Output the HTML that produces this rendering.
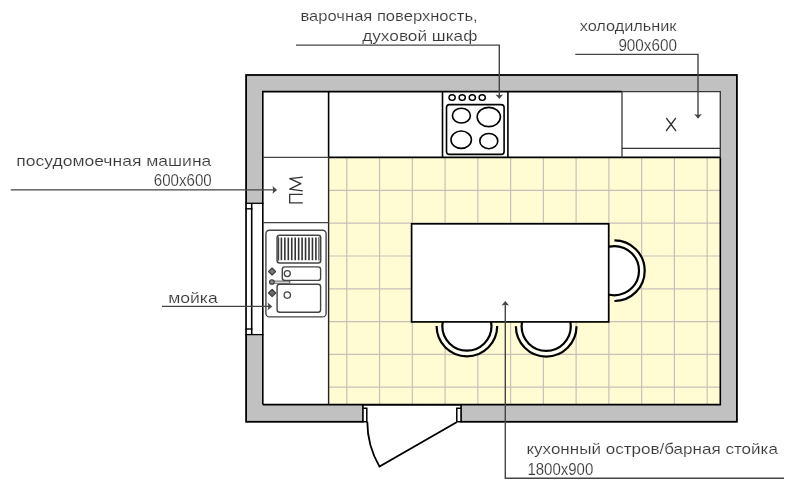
<!DOCTYPE html>
<html><head><meta charset="utf-8"><style>
html,body{margin:0;padding:0;background:#fff;width:795px;height:495px;overflow:hidden}
svg{display:block;font-family:"Liberation Sans", sans-serif;will-change:transform}
</style></head><body>
<svg width="795" height="495" viewBox="0 0 795 495">
<rect x="0" y="0" width="795" height="495" fill="#fff"/>
<rect x="246.1" y="75" width="490.8" height="346.8" fill="#c1c1c1" stroke="#000" stroke-width="1.8"/>
<rect x="262.8" y="91.6" width="457.5" height="313.0" fill="#fff"/>
<path d="M622 91.6 H262.8 V404.6" fill="none" stroke="#000" stroke-width="1.6"/>
<rect x="246.9" y="203.3" width="15.1" height="131.3" fill="#fff"/>
<line x1="245.3" y1="203.3" x2="263.5" y2="203.3" stroke="#000" stroke-width="1.3"/>
<line x1="245.3" y1="334.6" x2="263.5" y2="334.6" stroke="#000" stroke-width="1.3"/>
<line x1="251.7" y1="203.3" x2="251.7" y2="334.6" stroke="#000" stroke-width="1.6"/>
<line x1="245.3" y1="208.8" x2="252.5" y2="208.8" stroke="#000" stroke-width="1.4"/>
<line x1="245.3" y1="329.0" x2="252.5" y2="329.0" stroke="#000" stroke-width="1.4"/>
<rect x="363.6" y="405.1" width="96.8" height="18.5" fill="#fff"/>
<line x1="362.9" y1="404.3" x2="362.9" y2="421.8" stroke="#000" stroke-width="1.6"/>
<line x1="461.1" y1="404.3" x2="461.1" y2="421.8" stroke="#000" stroke-width="1.6"/>
<path d="M363.2 408.2 H366.8 V421.8 H362.5" fill="none" stroke="#000" stroke-width="1.5"/>
<path d="M460.8 408.3 H456.8 V421.8 H461.5" fill="none" stroke="#000" stroke-width="1.5"/>
<line x1="362" y1="404.6" x2="462" y2="404.6" stroke="#000" stroke-width="1.6"/>
<rect x="329" y="157.4" width="391.3" height="247.2" fill="#fffcd3"/>
<line x1="346.80" y1="157.4" x2="346.80" y2="404.3" stroke="#c8c0b8" stroke-width="1.2"/>
<line x1="379.56" y1="157.4" x2="379.56" y2="404.3" stroke="#c8c0b8" stroke-width="1.2"/>
<line x1="412.32" y1="157.4" x2="412.32" y2="404.3" stroke="#c8c0b8" stroke-width="1.2"/>
<line x1="445.08" y1="157.4" x2="445.08" y2="404.3" stroke="#c8c0b8" stroke-width="1.2"/>
<line x1="477.84" y1="157.4" x2="477.84" y2="404.3" stroke="#c8c0b8" stroke-width="1.2"/>
<line x1="510.60" y1="157.4" x2="510.60" y2="404.3" stroke="#c8c0b8" stroke-width="1.2"/>
<line x1="543.36" y1="157.4" x2="543.36" y2="404.3" stroke="#c8c0b8" stroke-width="1.2"/>
<line x1="576.12" y1="157.4" x2="576.12" y2="404.3" stroke="#c8c0b8" stroke-width="1.2"/>
<line x1="608.88" y1="157.4" x2="608.88" y2="404.3" stroke="#c8c0b8" stroke-width="1.2"/>
<line x1="641.64" y1="157.4" x2="641.64" y2="404.3" stroke="#c8c0b8" stroke-width="1.2"/>
<line x1="674.40" y1="157.4" x2="674.40" y2="404.3" stroke="#c8c0b8" stroke-width="1.2"/>
<line x1="707.16" y1="157.4" x2="707.16" y2="404.3" stroke="#c8c0b8" stroke-width="1.2"/>
<line x1="329" y1="190.40" x2="720.3" y2="190.40" stroke="#c8c0b8" stroke-width="1.2"/>
<line x1="329" y1="223.20" x2="720.3" y2="223.20" stroke="#c8c0b8" stroke-width="1.2"/>
<line x1="329" y1="256.00" x2="720.3" y2="256.00" stroke="#c8c0b8" stroke-width="1.2"/>
<line x1="329" y1="288.80" x2="720.3" y2="288.80" stroke="#c8c0b8" stroke-width="1.2"/>
<line x1="329" y1="321.60" x2="720.3" y2="321.60" stroke="#c8c0b8" stroke-width="1.2"/>
<line x1="329" y1="354.40" x2="720.3" y2="354.40" stroke="#c8c0b8" stroke-width="1.2"/>
<line x1="329" y1="387.20" x2="720.3" y2="387.20" stroke="#c8c0b8" stroke-width="1.2"/>
<line x1="720.3" y1="157.4" x2="720.3" y2="405.4" stroke="#000" stroke-width="1.6"/>
<path d="M622 91.6 H720.3 V157.4" fill="none" stroke="#383838" stroke-width="1.35"/>
<line x1="262.8" y1="404.6" x2="720.3" y2="404.6" stroke="#000" stroke-width="1.6"/>
<line x1="328.6" y1="91.6" x2="328.6" y2="157.4" stroke="#000" stroke-width="1.6"/>
<line x1="328.6" y1="157.4" x2="328.6" y2="404.3" stroke="#222" stroke-width="1.4"/>
<line x1="329" y1="157.4" x2="720.3" y2="157.4" stroke="#000" stroke-width="1.6"/>
<line x1="262.8" y1="157.4" x2="329" y2="157.4" stroke="#444" stroke-width="1.2"/>
<line x1="262.8" y1="222.6" x2="329" y2="222.6" stroke="#444" stroke-width="1.2"/>
<line x1="442.5" y1="91.6" x2="442.5" y2="157.4" stroke="#000" stroke-width="1.6"/>
<line x1="507.9" y1="91.6" x2="507.9" y2="157.4" stroke="#000" stroke-width="1.6"/>
<ellipse cx="452.1" cy="97.5" rx="3.1" ry="2.85" fill="none" stroke="#000" stroke-width="1.45"/>
<ellipse cx="462.2" cy="97.5" rx="3.1" ry="2.85" fill="none" stroke="#000" stroke-width="1.45"/>
<ellipse cx="472.3" cy="97.5" rx="3.1" ry="2.85" fill="none" stroke="#000" stroke-width="1.45"/>
<ellipse cx="482.2" cy="97.5" rx="3.1" ry="2.85" fill="none" stroke="#000" stroke-width="1.45"/>
<rect x="446.5" y="104.6" width="57.6" height="49.8" rx="3" fill="none" stroke="#000" stroke-width="1.6"/>
<ellipse cx="461.4" cy="115.6" rx="9.0" ry="7.4" fill="none" stroke="#000" stroke-width="1.6"/>
<ellipse cx="488.8" cy="117.0" rx="11.6" ry="9.6" fill="none" stroke="#000" stroke-width="1.6"/>
<ellipse cx="461.2" cy="139.7" rx="10.2" ry="8.7" fill="none" stroke="#000" stroke-width="1.6"/>
<ellipse cx="488.8" cy="141.1" rx="9.0" ry="7.6" fill="none" stroke="#000" stroke-width="1.6"/>
<line x1="622" y1="91" x2="622" y2="157.4" stroke="#383838" stroke-width="1.3"/>
<line x1="622" y1="148.3" x2="720.3" y2="148.3" stroke="#333" stroke-width="1.3"/>
<rect x="265.9" y="230.3" width="60.2" height="86.6" rx="3.5" fill="none" stroke="#444" stroke-width="1.4"/>
<rect x="277.1" y="235.2" width="43.6" height="27.9" rx="2.5" fill="none" stroke="#444" stroke-width="1.5"/>
<line x1="281.40" y1="237.6" x2="281.40" y2="260.2" stroke="#333" stroke-width="1.6"/>
<line x1="284.85" y1="237.6" x2="284.85" y2="260.2" stroke="#333" stroke-width="1.6"/>
<line x1="288.30" y1="237.6" x2="288.30" y2="260.2" stroke="#333" stroke-width="1.6"/>
<line x1="291.75" y1="237.6" x2="291.75" y2="260.2" stroke="#333" stroke-width="1.6"/>
<line x1="295.20" y1="237.6" x2="295.20" y2="260.2" stroke="#333" stroke-width="1.6"/>
<line x1="298.65" y1="237.6" x2="298.65" y2="260.2" stroke="#333" stroke-width="1.6"/>
<line x1="302.10" y1="237.6" x2="302.10" y2="260.2" stroke="#333" stroke-width="1.6"/>
<line x1="305.55" y1="237.6" x2="305.55" y2="260.2" stroke="#333" stroke-width="1.6"/>
<line x1="309.00" y1="237.6" x2="309.00" y2="260.2" stroke="#333" stroke-width="1.6"/>
<line x1="312.45" y1="237.6" x2="312.45" y2="260.2" stroke="#333" stroke-width="1.6"/>
<line x1="315.90" y1="237.6" x2="315.90" y2="260.2" stroke="#333" stroke-width="1.6"/>
<line x1="278.6" y1="237.2" x2="278.6" y2="260.6" stroke="#444" stroke-width="1.2"/>
<line x1="318.9" y1="237.2" x2="318.9" y2="260.6" stroke="#444" stroke-width="1.2"/>
<rect x="282.3" y="266.9" width="38.3" height="13.5" rx="2.5" fill="none" stroke="#444" stroke-width="1.4"/>
<circle cx="287.3" cy="273.6" r="3" fill="none" stroke="#444" stroke-width="1.3"/>
<rect x="277.1" y="284.3" width="43.5" height="28" rx="2.5" fill="none" stroke="#444" stroke-width="1.4"/>
<circle cx="287.3" cy="295.1" r="3.2" fill="none" stroke="#444" stroke-width="1.3"/>
<path d="M272.1 268 L275.6 271.5 L272.1 275 L268.6 271.5 Z" fill="#7a7a7a" stroke="#383838" stroke-width="1.1" stroke-linejoin="round"/>
<path d="M272.1 289.4 L275.7 293 L272.1 296.6 L268.5 293 Z" fill="#6a6a6a" stroke="#383838" stroke-width="1.1" stroke-linejoin="round"/>
<rect x="272" y="281.1" width="17.8" height="2.1" fill="#fff" stroke="#444" stroke-width="0.9"/>
<circle cx="271.9" cy="282" r="2.3" fill="#8a8a8a" stroke="#383838" stroke-width="1.1"/>
<path d="M436.60 326.10 A30.3 30.3 0 0 0 497.20 326.10" fill="#fffff4" stroke="#000" stroke-width="2.2"/>
<circle cx="466.90" cy="326.10" r="24.6" fill="#fff" stroke="#000" stroke-width="2.2"/>
<path d="M515.90 326.30 A30.3 30.3 0 0 0 576.50 326.30" fill="#fffff4" stroke="#000" stroke-width="2.2"/>
<circle cx="546.20" cy="326.30" r="24.6" fill="#fff" stroke="#000" stroke-width="2.2"/>
<path d="M614.40 240.40 A30.3 30.3 0 0 1 614.40 301.00" fill="#fffff4" stroke="#000" stroke-width="2.2"/>
<circle cx="614.40" cy="270.70" r="24.6" fill="#fff" stroke="#000" stroke-width="2.2"/>
<rect x="411.6" y="223.8" width="197.1" height="98.1" fill="#fff" stroke="#000" stroke-width="1.7"/>
<path d="M367.3 421.8 A89 89 0 0 0 379.5 466.6 L456.6 422.2" fill="none" stroke="#000" stroke-width="1.8"/>
<path d="M296 45.1 H499.3 V97" fill="none" stroke="#444" stroke-width="1.4"/>
<path d="M495.50 94.40 L499.30 99.00 L503.10 94.40 L499.30 95.20 Z" fill="#444"/>
<path d="M575.3 54.4 H698 V116" fill="none" stroke="#444" stroke-width="1.4"/>
<path d="M694.20 114.10 L698.00 118.70 L701.80 114.10 L698.00 114.90 Z" fill="#444"/>
<path d="M10.8 189.9 H274" fill="none" stroke="#444" stroke-width="1.4"/>
<path d="M272.50 186.10 L277.10 189.90 L272.50 193.70 L273.30 189.90 Z" fill="#444"/>
<path d="M162 306.4 H270" fill="none" stroke="#444" stroke-width="1.4"/>
<path d="M267.60 302.60 L272.20 306.40 L267.60 310.20 L268.40 306.40 Z" fill="#444"/>
<path d="M505.3 303 V478.2 H784" fill="none" stroke="#444" stroke-width="1.4"/>
<path d="M501.50 305.60 L505.30 301.00 L509.10 305.60 L505.30 304.80 Z" fill="#444"/>
<text x="300.5" y="21.0" textLength="177.1" lengthAdjust="spacingAndGlyphs" font-size="14.4" fill="#383838" stroke="#fff" stroke-width="0.15">варочная поверхность,</text>
<text x="362.2" y="40.7" textLength="115.2" lengthAdjust="spacingAndGlyphs" font-size="14.4" fill="#383838" stroke="#fff" stroke-width="0.15">духовой шкаф</text>
<text x="579.7" y="31.1" textLength="96.8" lengthAdjust="spacingAndGlyphs" font-size="14.4" fill="#383838" stroke="#fff" stroke-width="0.15">холодильник</text>
<text x="618.4" y="50.5" textLength="58.5" lengthAdjust="spacingAndGlyphs" font-size="15.6" fill="#383838" stroke="#fff" stroke-width="0.15">900x600</text>
<text x="16.3" y="166" textLength="195.0" lengthAdjust="spacingAndGlyphs" font-size="14.4" fill="#383838" stroke="#fff" stroke-width="0.15">посудомоечная машина</text>
<text x="153.8" y="186.1" textLength="57.9" lengthAdjust="spacingAndGlyphs" font-size="15.6" fill="#383838" stroke="#fff" stroke-width="0.15">600x600</text>
<text x="168.2" y="302.6" textLength="49.5" lengthAdjust="spacingAndGlyphs" font-size="14.4" fill="#383838" stroke="#fff" stroke-width="0.15">мойка</text>
<text x="526.4" y="454.2" textLength="251.5" lengthAdjust="spacingAndGlyphs" font-size="14.4" fill="#383838" stroke="#fff" stroke-width="0.15">кухонный остров/барная стойка</text>
<text x="527.4" y="474.5" textLength="65.9" lengthAdjust="spacingAndGlyphs" font-size="15.6" fill="#383838" stroke="#fff" stroke-width="0.15">1800x900</text>
<path d="M666.3 118 L676 131 M675.8 118 L666.1 131" fill="none" stroke="#333" stroke-width="1.3"/>
<path d="M302.8 177.1 L289.7 178.6 L300.8 183.7 L289.7 189.2 L302.8 190.8 M302.8 194.3 L289.7 194.3 L289.7 202.9 L302.8 202.9" fill="none" stroke="#333" stroke-width="1.3" stroke-linejoin="round"/>
</svg>
</body></html>
